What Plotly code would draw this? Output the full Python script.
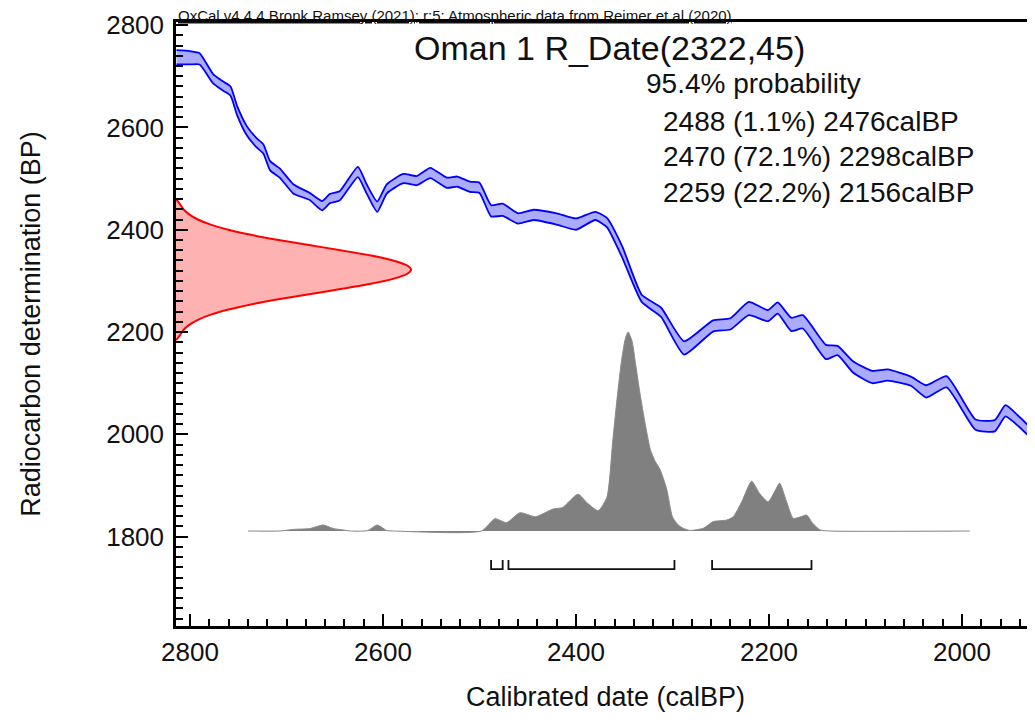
import plotly.graph_objects as go

# ---------------- data ----------------
# calibration curve (IntCal20, atmospheric) : calBP, 14C BP, 1-sigma half width
cal_bp = [2814, 2800, 2790, 2776, 2766, 2758, 2751, 2741, 2731, 2724,
          2717, 2707, 2693, 2676, 2663, 2655, 2645, 2626, 2617, 2606,
          2596, 2579, 2565, 2551, 2534, 2523, 2510, 2500, 2488, 2476,
          2460, 2444, 2420, 2400, 2380, 2368, 2352, 2332, 2312, 2288,
          2258, 2240, 2221, 2201, 2191, 2177, 2165, 2141, 2129, 2113,
          2093, 2077, 2053, 2037, 2016, 1986, 1966, 1955, 1941, 1924]
c14_bp = [2737, 2736, 2734, 2695, 2681, 2671, 2632, 2593, 2570, 2558,
          2525, 2511, 2480, 2465, 2447, 2461, 2466, 2513, 2480, 2445,
          2480, 2500, 2496, 2511, 2492, 2494, 2484, 2482, 2437, 2439,
          2422, 2429, 2421, 2411, 2427, 2414, 2356, 2266, 2239, 2169,
          2212, 2216, 2246, 2232, 2247, 2215, 2220, 2161, 2164, 2132,
          2112, 2116, 2104, 2084, 2103, 2019, 2017, 2046, 2025, 1994]
c14_err = [14, 13, 11, 9, 9, 9, 9, 9, 9, 9,
           9, 9, 9, 7, 9, 9, 9, 10, 9, 10,
           9, 9, 9, 10, 10, 10, 10, 10, 11, 12,
           10, 10, 11, 11, 8, 9, 11, 7, 9, 13,
           11, 11, 13, 11, 11, 13, 13, 14, 9, 11,
           12, 11, 9, 12, 11, 10, 11, 11, 10, 10]

# radiocarbon measurement distribution R_Date(2322,45)
red_bp = [2460, 2450, 2440, 2430, 2420, 2410, 2400, 2390, 2380, 2370,
          2360, 2350, 2340, 2330, 2322, 2314, 2304, 2294, 2284, 2274,
          2264, 2254, 2244, 2234, 2224, 2214, 2204, 2194, 2184]
red_p = [0.0, 0.017, 0.032, 0.056, 0.093, 0.148, 0.223, 0.319, 0.436, 0.566,
         0.700, 0.824, 0.923, 0.984, 1.0, 0.984, 0.923, 0.824, 0.700, 0.566,
         0.436, 0.319, 0.223, 0.148, 0.093, 0.056, 0.032, 0.017, 0.0]

# calibrated probability distribution
post_cal = [2740, 2707, 2693, 2676, 2662, 2652, 2641, 2634, 2616, 2606,
            2596, 2588, 2498, 2484, 2472, 2458, 2442, 2424, 2414, 2398,
            2388, 2377, 2368, 2362, 2358, 2353, 2349, 2346, 2342, 2338,
            2334, 2328, 2323, 2318, 2313, 2306, 2300, 2294, 2289, 2282,
            2268, 2258, 2244, 2237, 2228, 2218, 2210, 2201, 2194, 2189,
            2182, 2175, 2168, 2161, 2155, 2147, 2137, 1992]
post_p = [0, 0, 0.008, 0.012, 0.03, 0.013, 0.005, 0, 0.002, 0.03,
          0.002, 0, 0, 0.062, 0.042, 0.092, 0.072, 0.11, 0.118, 0.185,
          0.139, 0.102, 0.17, 0.45, 0.64, 0.85, 0.965, 1.0, 0.955, 0.83,
          0.70, 0.53, 0.41, 0.35, 0.31, 0.21, 0.07, 0.03, 0.014, 0.003,
          0.014, 0.047, 0.055, 0.072, 0.15, 0.25, 0.19, 0.147, 0.2, 0.24,
          0.15, 0.064, 0.07, 0.08, 0.04, 0.005, 0, 0]

# 95.4% ranges
hpd_from = [2488, 2470, 2259]
hpd_to = [2476, 2298, 2156]
hpd_pct = ["1.1%", "72.1%", "22.2%"]

header = "OxCal v4.4.4 Bronk Ramsey (2021); r:5: Atmospheric data from Reimer et al (2020)"
title = "Oman 1 R_Date(2322,45)"

# ---------------- layout geometry ----------------
OFF = 8                      # default page body margin
FW, FH = 1035 - OFF, 722 - OFF
L, R, T, B = 176 - OFF, 1035 - OFF, 22 - OFF, 626 - OFF
W, H = R - L, B - T
def px(x):                   # page pixel -> paper
    return (x - OFF - L) / W
def py(y):
    return (B - (y - OFF)) / H

FONT = "Liberation Sans, Arial, sans-serif"
TXT = "#111111"

fig = go.Figure()

upper = [c + e for c, e in zip(c14_bp, c14_err)]
lower = [c - e for c, e in zip(c14_bp, c14_err)]
fig.add_trace(go.Scatter(x=cal_bp, y=upper, mode="lines",
                         line=dict(color="#0000ff", width=1.8, shape="spline", smoothing=0.5),
                         hoverinfo="skip"))
fig.add_trace(go.Scatter(x=cal_bp, y=lower, mode="lines", fill="tonexty",
                         fillcolor="rgba(0,0,255,0.33)",
                         line=dict(color="#0000ff", width=1.8, shape="spline", smoothing=0.5),
                         hoverinfo="skip"))

# calibrated distribution
fig.add_trace(go.Scatter(x=post_cal, y=post_p, xaxis="x", yaxis="y2", mode="lines",
                         fill="tozeroy", fillcolor="#808080",
                         line=dict(color="#8a8a8a", width=1, shape="spline", smoothing=0.6)))

# measurement distribution
fig.add_trace(go.Scatter(x=red_p, y=red_bp, xaxis="x2", yaxis="y", mode="lines",
                         fill="tozerox", fillcolor="rgba(255,0,0,0.3)",
                         line=dict(color="#ff0000", width=2, shape="spline", smoothing=0.6)))

# range brackets
bx, by = [], []
btop, bbot = -0.146, -0.192
for a, b in zip(hpd_from, hpd_to):
    bx += [a, a, b, b, None]
    by += [btop, bbot, bbot, btop, None]
fig.add_trace(go.Scatter(x=bx, y=by, xaxis="x", yaxis="y2", mode="lines",
                         line=dict(color="#111111", width=1.8)))

axis_common = dict(showline=True, linecolor="black", linewidth=2.5,
                   ticks="inside", ticklen=12, tickwidth=2, tickcolor="black",
                   showgrid=False, zeroline=False,
                   tickfont=dict(family=FONT, size=26, color=TXT))

fig.update_layout(
    width=FW, height=FH,
    margin=dict(l=L, r=FW - R, t=T, b=FH - B),
    paper_bgcolor="white", plot_bgcolor="white",
    showlegend=False,
    xaxis=dict(range=[2814.5, 1924.4], dtick=200, tick0=2000, mirror=True,
               ticklabelstandoff=1,
               minor=dict(dtick=20, ticklen=7, tickwidth=1.5, ticks="inside",
                          tickcolor="black", showgrid=False),
               title=dict(text="Calibrated date (calBP)", standoff=22,
                          font=dict(family=FONT, size=27, color=TXT)),
               **axis_common),
    yaxis=dict(range=[1625.5, 2806], dtick=200, tick0=2000,
               ticklabelstandoff=4,
               minor=dict(dtick=20, ticklen=7, tickwidth=1.5, ticks="inside",
                          tickcolor="black", showgrid=False),
               title=dict(text="Radiocarbon determination (BP)", standoff=58,
                          font=dict(family=FONT, size=27, color=TXT)),
               **axis_common),
    xaxis2=dict(overlaying="x", range=[0, 3.655], visible=False),
    yaxis2=dict(overlaying="y", range=[-0.4774, 2.5578], visible=False),
)

ann = [
    dict(text="<u>" + header + "</u>", x=px(176), y=py(15), xanchor="left", yanchor="middle",
         font=dict(family=FONT, size=15, color=TXT)),
    dict(text=title, x=px(609), y=py(48), xanchor="center", yanchor="middle",
         font=dict(family=FONT, size=34, color=TXT)),
    dict(text="95.4% probability", x=px(644), y=py(84), xanchor="left", yanchor="middle",
         font=dict(family=FONT, size=28, color=TXT)),
]
ys = [121, 157, 192]
for a, b, p, yy in zip(hpd_from, hpd_to, hpd_pct, ys):
    ann.append(dict(text=f"{a} ({p}) {b}calBP", x=px(661), y=py(yy),
                    xanchor="left", yanchor="middle",
                    font=dict(family=FONT, size=28, color=TXT)))
for a in ann:
    a.update(xref="paper", yref="paper", showarrow=False)
fig.update_layout(annotations=ann)

fig.write_html("out.html")
